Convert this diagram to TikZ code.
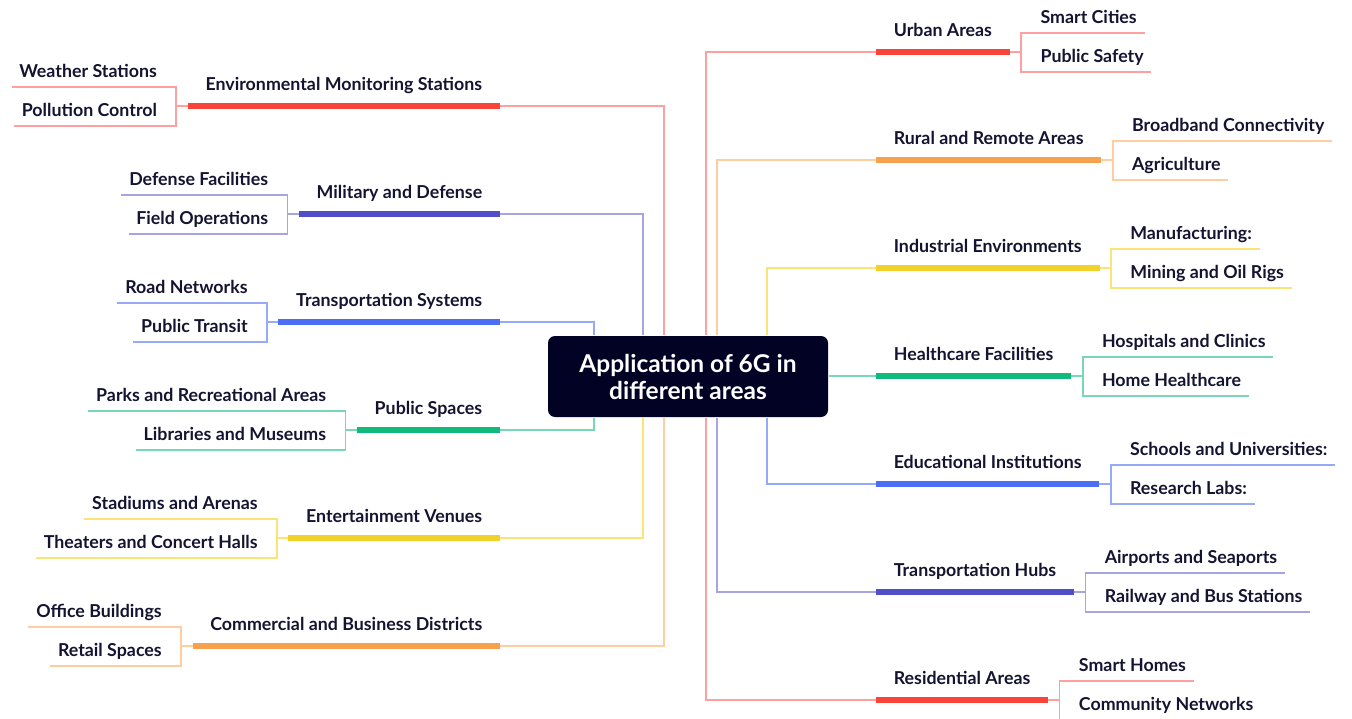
\documentclass[tikz,border=0pt]{standalone}
\usepackage{fontspec}
\setmainfont{Lato}
\usetikzlibrary{positioning}
\definecolor{ink}{RGB}{20,20,50}
\definecolor{navy}{RGB}{2,2,36}
\definecolor{cRed}{RGB}{250,68,58}
\definecolor{cRedL}{RGB}{255,160,160}
\definecolor{cOrange}{RGB}{247,160,78}
\definecolor{cOrangeL}{RGB}{255,205,160}
\definecolor{cYellow}{RGB}{242,210,40}
\definecolor{cYellowL}{RGB}{250,228,120}
\definecolor{cGreen}{RGB}{18,185,125}
\definecolor{cGreenL}{RGB}{120,215,180}
\definecolor{cBlue}{RGB}{76,110,245}
\definecolor{cBlueL}{RGB}{150,170,248}
\definecolor{cIndigo}{RGB}{80,78,200}
\definecolor{cIndigoL}{RGB}{165,165,225}
\tikzset{
  every picture/.style={line width=1.6pt},
  hub/.style={fill=navy, rounded corners=7pt, text=white, font=\fontsize{24.5}{27}\selectfont\bfseries, align=center, minimum width=280pt, minimum height=81pt, inner sep=0pt},
  topic/.style={text=ink, font=\fontsize{17.8}{20}\selectfont\bfseries, inner xsep=17pt, inner ysep=0pt, text height=13pt, text depth=14.5pt},
  leaf/.style={text=ink, font=\fontsize{17.8}{20}\selectfont\bfseries, inner xsep=7pt, inner ysep=0pt, text height=13pt, text depth=8.5pt},
  bar/.style={line width=6pt, draw=#1},
  link/.style={line width=1.6pt, draw=#1}
}
\begin{document}
\begin{tikzpicture}[x=1pt, y=-1pt]
    \useasboundingbox (0,0) rectangle (1352,719);
    \node [hub] (c) at (688,376.5) {Application of 6G in\\different areas};

    % right side
    \node [topic, anchor=south west] (urban) at (876,52) {Urban Areas};
    \node [topic, anchor=south west] (rural) at (876,160) {Rural and Remote Areas};
    \node [topic, anchor=south west] (industry) at (876,268) {Industrial Environments};
    \node [topic, anchor=south west] (health) at (876,376) {Healthcare Facilities};
    \node [topic, anchor=south west] (edu) at (876,484) {Educational Institutions};
    \node [topic, anchor=south west] (hubs) at (876,592) {Transportation Hubs};
    \node [topic, anchor=south west] (home) at (876,700) {Residential Areas};

    \node [leaf, above right=19pt and 23pt of urban.south east] (smart) {Smart Cities};
    \node [leaf, above right=-20pt and 23pt of urban.south east] (safety) {Public Safety};
    \node [leaf, above right=19pt and 23pt of rural.south east] (broadband) {Broadband Connectivity};
    \node [leaf, above right=-20pt and 23pt of rural.south east] (agri) {Agriculture};
    \node [leaf, above right=19pt and 23pt of industry.south east] (manu) {Manufacturing:};
    \node [leaf, above right=-20pt and 23pt of industry.south east] (mining) {Mining and Oil Rigs};
    \node [leaf, above right=19pt and 23pt of health.south east] (clinics) {Hospitals and Clinics};
    \node [leaf, above right=-20pt and 23pt of health.south east] (homecare) {Home Healthcare};
    \node [leaf, above right=19pt and 23pt of edu.south east] (schools) {Schools and Universities:};
    \node [leaf, above right=-20pt and 23pt of edu.south east] (labs) {Research Labs:};
    \node [leaf, above right=19pt and 23pt of hubs.south east] (ports) {Airports and Seaports};
    \node [leaf, above right=-20pt and 23pt of hubs.south east] (stations) {Railway and Bus Stations};
    \node [leaf, above right=19pt and 23pt of home.south east] (smarthomes) {Smart Homes};
    \node [leaf, above right=-20pt and 23pt of home.south east] (community) {Community Networks};

    % left side
    \node [topic, anchor=south east] (env) at (500,106) {Environmental Monitoring Stations};
    \node [topic, anchor=south east] (defense) at (500,214) {Military and Defense};
    \node [topic, anchor=south east] (transit) at (500,322) {Transportation Systems};
    \node [topic, anchor=south east] (public) at (500,430) {Public Spaces};
    \node [topic, anchor=south east] (venues) at (500,538) {Entertainment Venues};
    \node [topic, anchor=south east] (business) at (500,646) {Commercial and Business Districts};

    \node [leaf, above left=19pt and 23pt of env.south west] (weather) {Weather Stations};
    \node [leaf, above left=-20pt and 23pt of env.south west] (pollution) {Pollution Control};
    \node [leaf, above left=19pt and 23pt of defense.south west] (facilities) {Defense Facilities};
    \node [leaf, above left=-20pt and 23pt of defense.south west] (field) {Field Operations};
    \node [leaf, above left=19pt and 23pt of transit.south west] (roads) {Road Networks};
    \node [leaf, above left=-20pt and 23pt of transit.south west] (ptransit) {Public Transit};
    \node [leaf, above left=19pt and 23pt of public.south west] (parks) {Parks and Recreational Areas};
    \node [leaf, above left=-20pt and 23pt of public.south west] (museums) {Libraries and Museums};
    \node [leaf, above left=19pt and 23pt of venues.south west] (stadiums) {Stadiums and Arenas};
    \node [leaf, above left=-20pt and 23pt of venues.south west] (theaters) {Theaters and Concert Halls};
    \node [leaf, above left=19pt and 23pt of business.south west] (offices) {Office Buildings};
    \node [leaf, above left=-20pt and 23pt of business.south west] (retail) {Retail Spaces};

    % hub to topics
    \draw[link=cRedL] ([xshift=159pt]c.north west) |- (urban.south west);
    \draw[link=cOrangeL] ([xshift=170pt]c.north west) |- (rural.south west);
    \draw[link=cYellowL] ([xshift=220pt]c.north west) |- (industry.south west);
    \draw[link=cGreenL] (c.east |- health.south west) -- (health.south west);
    \draw[link=cBlueL] ([xshift=220pt]c.south west) |- (edu.south west);
    \draw[link=cIndigoL] ([xshift=170pt]c.south west) |- (hubs.south west);
    \draw[link=cRedL] ([xshift=159pt]c.south west) |- (home.south west);

    \draw[link=cRedL] (env.south east) -| ([xshift=117pt]c.north west);
    \draw[link=cIndigoL] (defense.south east) -| ([xshift=96pt]c.north west);
    \draw[link=cBlueL] (transit.south east) -| ([xshift=46.5pt]c.north west);
    \draw[link=cGreenL] (public.south east) -| ([xshift=46.5pt]c.south west);
    \draw[link=cYellowL] (venues.south east) -| ([xshift=96pt]c.south west);
    \draw[link=cOrangeL] (business.south east) -| ([xshift=117pt]c.south west);

    % topics to leaves
    \draw[link=cRedL] (urban.south east) -- ++(11.5,0) |- (smart.south west) -- (smart.south east);
    \draw[link=cRedL] (urban.south east) -- ++(11.5,0) |- (safety.south west) -- (safety.south east);
    \draw[link=cOrangeL] (rural.south east) -- ++(11.5,0) |- (broadband.south west) -- (broadband.south east);
    \draw[link=cOrangeL] (rural.south east) -- ++(11.5,0) |- (agri.south west) -- (agri.south east);
    \draw[link=cYellowL] (industry.south east) -- ++(11.5,0) |- (manu.south west) -- (manu.south east);
    \draw[link=cYellowL] (industry.south east) -- ++(11.5,0) |- (mining.south west) -- (mining.south east);
    \draw[link=cGreenL] (health.south east) -- ++(11.5,0) |- (clinics.south west) -- (clinics.south east);
    \draw[link=cGreenL] (health.south east) -- ++(11.5,0) |- (homecare.south west) -- (homecare.south east);
    \draw[link=cBlueL] (edu.south east) -- ++(11.5,0) |- (schools.south west) -- (schools.south east);
    \draw[link=cBlueL] (edu.south east) -- ++(11.5,0) |- (labs.south west) -- (labs.south east);
    \draw[link=cIndigoL] (hubs.south east) -- ++(11.5,0) |- (ports.south west) -- (ports.south east);
    \draw[link=cIndigoL] (hubs.south east) -- ++(11.5,0) |- (stations.south west) -- (stations.south east);
    \draw[link=cRedL] (home.south east) -- ++(11.5,0) |- (smarthomes.south west) -- (smarthomes.south east);
    \draw[link=cRedL] (home.south east) -- ++(11.5,0) |- (community.south west) -- (community.south east);

    \draw[link=cRedL] (env.south west) -- ++(-11.5,0) |- (weather.south east) -- (weather.south west);
    \draw[link=cRedL] (env.south west) -- ++(-11.5,0) |- (pollution.south east) -- (pollution.south west);
    \draw[link=cIndigoL] (defense.south west) -- ++(-11.5,0) |- (facilities.south east) -- (facilities.south west);
    \draw[link=cIndigoL] (defense.south west) -- ++(-11.5,0) |- (field.south east) -- (field.south west);
    \draw[link=cBlueL] (transit.south west) -- ++(-11.5,0) |- (roads.south east) -- (roads.south west);
    \draw[link=cBlueL] (transit.south west) -- ++(-11.5,0) |- (ptransit.south east) -- (ptransit.south west);
    \draw[link=cGreenL] (public.south west) -- ++(-11.5,0) |- (parks.south east) -- (parks.south west);
    \draw[link=cGreenL] (public.south west) -- ++(-11.5,0) |- (museums.south east) -- (museums.south west);
    \draw[link=cYellowL] (venues.south west) -- ++(-11.5,0) |- (stadiums.south east) -- (stadiums.south west);
    \draw[link=cYellowL] (venues.south west) -- ++(-11.5,0) |- (theaters.south east) -- (theaters.south west);
    \draw[link=cOrangeL] (business.south west) -- ++(-11.5,0) |- (offices.south east) -- (offices.south west);
    \draw[link=cOrangeL] (business.south west) -- ++(-11.5,0) |- (retail.south east) -- (retail.south west);

    % thick bars under topics
    \draw[bar=cRed] (urban.south west) -- (urban.south east);
    \draw[bar=cOrange] (rural.south west) -- (rural.south east);
    \draw[bar=cYellow] (industry.south west) -- (industry.south east);
    \draw[bar=cGreen] (health.south west) -- (health.south east);
    \draw[bar=cBlue] (edu.south west) -- (edu.south east);
    \draw[bar=cIndigo] (hubs.south west) -- (hubs.south east);
    \draw[bar=cRed] (home.south west) -- (home.south east);
    \draw[bar=cRed] (env.south west) -- (env.south east);
    \draw[bar=cIndigo] (defense.south west) -- (defense.south east);
    \draw[bar=cBlue] (transit.south west) -- (transit.south east);
    \draw[bar=cGreen] (public.south west) -- (public.south east);
    \draw[bar=cYellow] (venues.south west) -- (venues.south east);
    \draw[bar=cOrange] (business.south west) -- (business.south east);
\end{tikzpicture}
\end{document}
